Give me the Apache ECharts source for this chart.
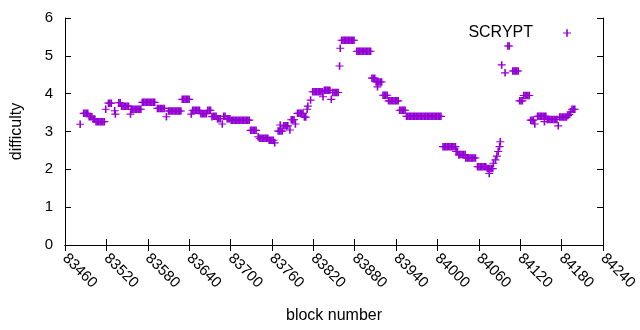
<!DOCTYPE html>
<html>
<head>
<meta charset="utf-8">
<script src="https://cdn.jsdelivr.net/npm/echarts@6/dist/echarts.min.js"></script>
<style>html,body{margin:0;padding:0;background:#fff}#c{width:640px;height:330px}</style>
</head>
<body>
<div id="c"></div>
<script>
const seriesName = 'SCRYPT';
const xRange = [83460, 84240];
const xStep = 60;
const yRange = [0, 6];
const yStep = 1;

const blocks = [
  83482, 83487,83489,83491,83493, 83495,83497,83499, 83501,83503,
  83505,83507,83509,83511,83513,83515,83517, 83519, 83523,83525,83527,
  83532,83533, 83538,83540, 83542,83544,83546,83548,83550,83552, 83555,
  83556,83558,83560,83562,83564,83566,83568,83570,
  83572,83574,83576,83578,83580,83582,83584,83586,83588,83590,
  83594,83596,83598,83600,83602,83604, 83607,
  83610,83612,83614,83616,83618,83620,83622,83624,83626,83628,
  83630,83632,83634,83636,83638,83640, 83643,
  83645,83647,83649,83651,83653,83655, 83657,83659,83661,83663,83665,
  83667,83669,83671, 83673, 83675,83677,83679, 83681,83683,83685, 83688,
  83690,83692, 83695,83697,83699,
  83701,83703,83705,83707,83709,83711,83713,83715,83717,83719,83721,83723,83725,83727,
  83729,83731,83733,83735,83737, 83740,
  83742,83744,83746,83748,83750,83752,83754, 83756,83758,83760,83762, 83764,
  83769,83771,83772,83773,83775, 83777,83779,83781,83783, 83786,
  83788,83790,83792,83794, 83797,83799,83801,83803,83805, 83807,83809,
  83811,83812,83816, 83819,83821,83823,83825,83827,83829,83831,83833, 83834,
  83836,83838,83840,83842,83844, 83846, 83848,83850,83852,83854,83856,
  83858,83859, 83861,83863,83865,83867,83869,83871,83873,83875,83877,83879,
  83883,83885,83887,83889,83891,83893,83895,83897,83899,83901,83903,
  83905,83907,83909, 83911,83913,83913,83915,83917,83919,
  83921,83923,83925,83927, 83929,83931,83933,83935,83937,83939,83941,83943,
  83945,83947,83949,83951,83953,
  83955,83957,83959,83961,83963,83965,83967,83969,83971,83973,83975,83977,83979,
  83981,83983,83985,83987,83989,83991,83993,83995,83997,83999,84001,84003,84005,
  84008,84010,84012,84014,84016,84018,84020,84022,84024,84026,
  84027,84029, 84031, 84032,84034,84036,84038,84040,
  84041,84043,84045,84047,84049,84051,84053,84055,
  84058,84060,84062,84064,84066,84068,84070,
  84072,84074,84075,84076,84078,84080,
  84081,84084,84086,84088,84090,84091, 84093, 84098, 84102,84104,
  84109,84111,84113,84115,84117, 84119,84121,84123, 84125,84127,84129,84131,84133,
  84135,84137,84139,84141, 84145,84147,84149,84151,84153,84155,84155,84157,
  84159,84161,84163,84165,84167,84169,84171,84173, 84175,
  84177,84179,84181,84183,84185,84187, 84189,84191,84193, 84195,84197,84199
];

const difficulty = [
  3.19, 3.48,3.48,3.48,3.48, 3.39,3.39,3.39, 3.33,3.33,
  3.26,3.26,3.26,3.26,3.26,3.26,3.26, 3.59, 3.75,3.75,3.75,
  3.55,3.46, 3.76,3.76, 3.67,3.67,3.67,3.67,3.67,3.67, 3.46,
  3.59,3.59,3.59,3.59,3.59,3.59,3.59,3.59,
  3.77,3.77,3.77,3.77,3.77,3.77,3.77,3.77,3.77,3.77,
  3.61,3.61,3.61,3.61,3.61,3.61, 3.39,
  3.54,3.54,3.54,3.54,3.54,3.54,3.54,3.54,3.54,3.54,
  3.85,3.85,3.85,3.85,3.85,3.85, 3.46,
  3.56,3.56,3.56,3.56,3.56,3.56, 3.47,3.47,3.47,3.47,3.47,
  3.56,3.56,3.56, 3.39, 3.40,3.40,3.40, 3.34,3.34,3.34, 3.20,
  3.40,3.40, 3.34,3.34,3.34,
  3.30,3.30,3.30,3.30,3.30,3.30,3.30,3.30,3.30,3.30,3.30,3.30,3.30,3.30,
  3.03,3.03,3.03,3.03,3.03, 2.86,
  2.82,2.82,2.82,2.82,2.82,2.82,2.82, 2.77,2.77,2.77,2.77, 2.70,
  3.01,3.01,3.17,3.01,3.01, 3.15,3.15,3.15,3.15, 3.04,
  3.31,3.31,3.31,3.20, 3.48,3.48,3.48,3.48,3.48, 3.38,3.38,
  3.59,3.67,3.83, 4.05,4.05,4.05,4.05,4.05,4.05,4.05,4.05, 3.92,
  4.09,4.09,4.09,4.09,4.09, 3.85, 4.03,4.03,4.03,4.03,4.03,
  4.73,5.20, 5.41,5.41,5.41,5.41,5.41,5.41,5.41,5.41,5.41,5.41,
  5.12,5.12,5.12,5.12,5.12,5.12,5.12,5.12,5.12,5.12,5.12,
  4.41,4.41,4.41, 4.31,4.31,4.18,4.31,4.31,4.31,
  3.96,3.96,3.96,3.96, 3.81,3.81,3.81,3.81,3.81,3.81,3.81,3.81,
  3.56,3.56,3.56,3.56,3.56,
  3.40,3.40,3.40,3.40,3.40,3.40,3.40,3.40,3.40,3.40,3.40,3.40,3.40,
  3.40,3.40,3.40,3.40,3.40,3.40,3.40,3.40,3.40,3.40,3.40,3.40,3.40,
  2.60,2.60,2.60,2.60,2.60,2.60,2.60,2.60,2.60,2.60,
  2.47,2.47, 2.38, 2.39,2.39,2.39,2.39,2.39,
  2.30,2.30,2.30,2.30,2.30,2.30,2.30,2.30,
  2.07,2.07,2.07,2.07,2.07,2.07,2.07,
  2.02,2.02,1.89,2.02,2.02,2.02,
  2.16,2.25,2.35,2.47,2.60,2.73, 4.76, 4.55, 5.26,5.26,
  4.60,4.60,4.60,4.60,4.60, 3.81,3.81,3.81, 3.95,3.95,3.95,3.95,3.95,
  3.30,3.30,3.30,3.20, 3.40,3.40,3.40,3.40,3.40,3.40,3.26,3.40,
  3.32,3.32,3.32,3.32,3.32,3.32,3.32,3.32, 3.15,
  3.38,3.38,3.38,3.38,3.38,3.38, 3.42,3.45,3.52, 3.59,3.59,3.59
];

const purple = '#9400d3';
const plusPath = 'path://M0,3.2H8V4.3H0Z M3.2,0H4.8V7.5H3.2Z';
const font = 'Liberation Sans, Arial, sans-serif';

const chart = echarts.init(document.getElementById('c'), null, {renderer: 'canvas'});
const points = blocks.map((b, i) => [b, difficulty[i]]);

const baseAxis = {
  axisLine: {show: true, lineStyle: {color: '#000', width: 1}},
  axisTick: {show: true, inside: true, length: 6, lineStyle: {color: '#000'}},
  splitLine: {show: false},
  axisLabel: {color: '#000', fontFamily: font, fontSize: 13}
};

chart.setOption({
  animation: false,
  backgroundColor: '#fff',
  grid: {left: 65, right: 31, top: 18, bottom: 85, containLabel: false},
  legend: {
    data: [{name: seriesName, icon: plusPath}],
    right: 64, top: 20, align: 'right',
    itemWidth: 8, itemHeight: 7.5,
    textStyle: {color: '#000', fontFamily: font, fontSize: 16, padding: [0, 25, 0, 0]}
  },
  xAxis: [
    Object.assign({}, baseAxis, {
      type: 'value', min: xRange[0], max: xRange[1], interval: xStep, position: 'bottom',
      name: 'block number', nameLocation: 'middle', nameGap: 63,
      nameTextStyle: {color: '#000', fontFamily: font, fontSize: 16},
      axisLabel: {color: '#000', fontFamily: font, fontSize: 15, rotate: -45, margin: 11,
        showMaxLabel: true, showMinLabel: true, formatter: v => String(v)}
    }),
    Object.assign({}, baseAxis, {
      type: 'value', min: xRange[0], max: xRange[1], interval: xStep, position: 'top',
      axisLabel: {show: false}
    })
  ],
  yAxis: [
    Object.assign({}, baseAxis, {
      type: 'value', min: yRange[0], max: yRange[1], interval: yStep, position: 'left',
      name: 'difficulty', nameLocation: 'middle', nameGap: 40, nameRotate: 90,
      nameTextStyle: {color: '#000', fontFamily: font, fontSize: 16},
      axisLabel: {color: '#000', fontFamily: font, fontSize: 15, margin: 12}
    }),
    Object.assign({}, baseAxis, {
      type: 'value', min: yRange[0], max: yRange[1], interval: yStep, position: 'right',
      axisLabel: {show: false}
    })
  ],
  series: [{
    name: seriesName,
    type: 'scatter',
    data: points,
    symbol: plusPath,
    symbolSize: [8, 7.5],
    itemStyle: {color: purple, opacity: 1},
    xAxisIndex: 0, yAxisIndex: 0
  }]
});
</script>
</body>
</html>
